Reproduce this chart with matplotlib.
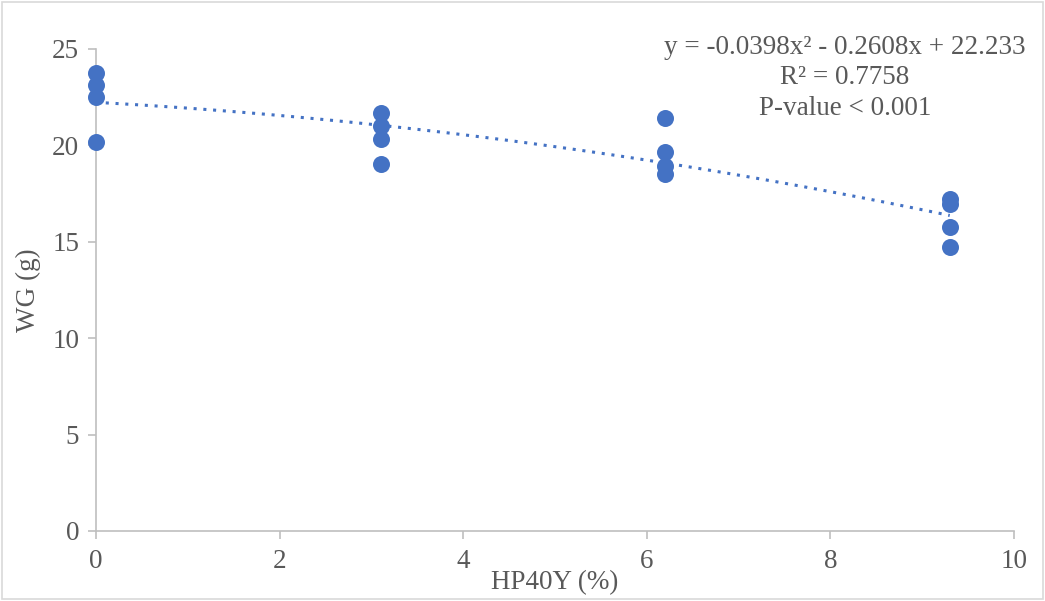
import numpy as np
import matplotlib

matplotlib.use("Agg")
import matplotlib.pyplot as plt

# Level of HP40Y in the diet (%) and weight gain (g)
hp40y = [0, 0, 0, 0,
         3.1, 3.1, 3.1, 3.1,
         6.2, 6.2, 6.2, 6.2,
         9.3, 9.3, 9.3, 9.3]
wg = [23.75, 23.13, 22.51, 20.18,
      21.68, 21.0, 20.33, 19.03,
      21.43, 19.65, 18.95, 18.5,
      17.2, 16.98, 15.78, 14.74]

# Excel polynomial trendline coefficients (shown on chart)
coef = [-0.0398, -0.2608, 22.233]
eq_lines = ["y = -0.0398x² - 0.2608x + 22.233",
            "R² = 0.7758",
            "P-value < 0.001"]

xticks = [0, 2, 4, 6, 8, 10]
yticks = [0, 5, 10, 15, 20, 25]

blue = "#4472C4"
axis_grey = "#BFBFBF"
text_grey = "#595959"

plt.rcParams["font.family"] = ["Liberation Serif", "DejaVu Serif"]

fig = plt.figure(figsize=(10.45, 6.01), dpi=100)
ax = fig.add_axes([96 / 1045, 1 - 531 / 601, (1014 - 96) / 1045, (531 - 49) / 601])

ax.scatter(hp40y, wg, s=150, color=blue, zorder=3, linewidths=0, clip_on=False)

xs = np.linspace(0, 9.3, 100)
ax.plot(xs, np.polyval(coef, xs), color=blue, linestyle=(0, (1, 2.2)),
        linewidth=2.2, zorder=2)

ax.set_xlim(0, 10)
ax.set_ylim(0, 25)
ax.set_xticks(xticks)
ax.set_yticks(yticks)
ax.tick_params(axis="both", colors=axis_grey, labelcolor=text_grey,
               labelsize=19.5, length=6, width=1.2)
ax.tick_params(axis="x", pad=7)
ax.tick_params(axis="y", pad=6)
for side in ("top", "right"):
    ax.spines[side].set_visible(False)
for side in ("left", "bottom"):
    ax.spines[side].set_color(axis_grey)
    ax.spines[side].set_linewidth(1.2)

ax.set_xlabel("HP40Y (%)", fontsize=19.5, color=text_grey, labelpad=-3)
ax.set_ylabel("WG (g)", fontsize=19.5, color=text_grey, labelpad=8)

for i, line in enumerate(eq_lines):
    fig.text(845 / 1045, 1 - (47 + 30.5 * i) / 601, line, fontsize=19.5,
             color=text_grey, ha="center", va="center")

# chart area border
fig.patches.append(plt.Rectangle((0.002, 0.003), 0.996, 0.994,
                                 transform=fig.transFigure, fill=False,
                                 edgecolor="#D9D9D9", linewidth=1.2))

fig.savefig("out.png", dpi=100)
